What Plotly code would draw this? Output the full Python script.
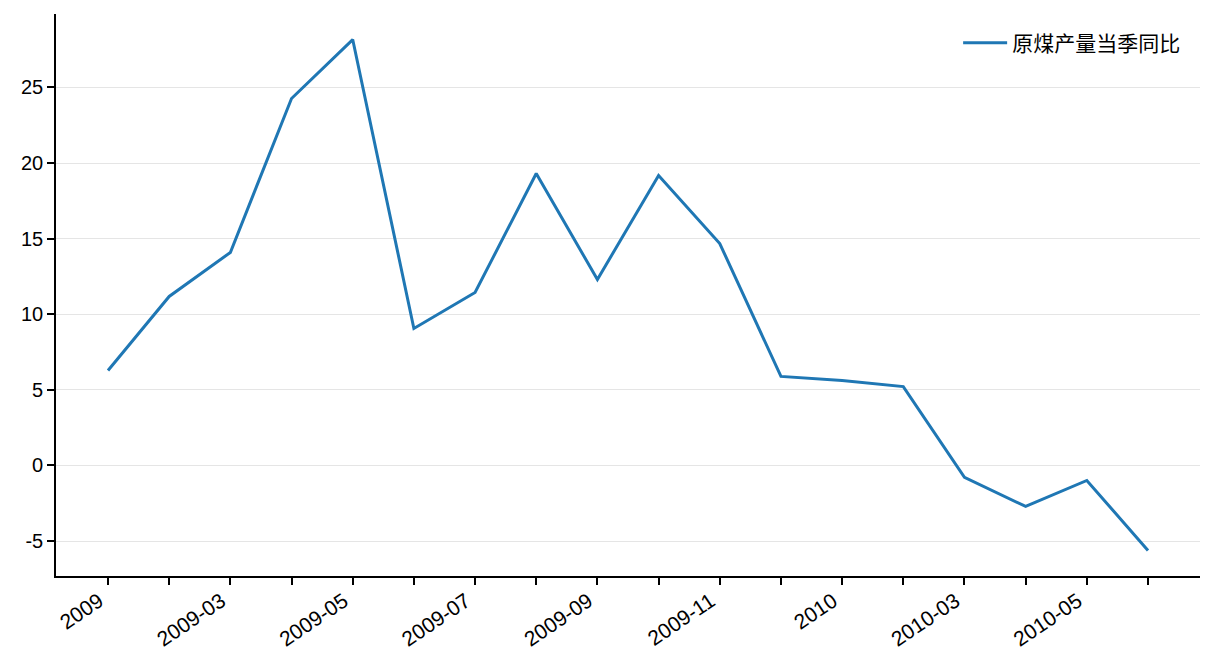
import plotly.graph_objects as go

# --- datos: producción de carbón crudo, variación interanual ---
months = ["2009-01", "2009-02", "2009-03", "2009-04", "2009-05", "2009-06",
          "2009-07", "2009-08", "2009-09", "2009-10", "2009-11", "2009-12",
          "2010-01", "2010-02", "2010-03", "2010-04", "2010-05", "2010-06"]
yoy = [6.28, 11.18, 14.09, 24.27, 28.17, 9.06,
       11.44, 19.31, 12.30, 19.18, 14.68, 5.89,
       5.62, 5.22, -0.79, -2.71, -0.99, -5.62]
tick_labels = ["2009", "", "2009-03", "", "2009-05", "", "2009-07", "", "2009-09",
               "", "2009-11", "", "2010", "", "2010-03", "", "2010-05", ""]
y_ticks = [-5, 0, 5, 10, 15, 20, 25]
y_tick_labels = ["-5", "0", "5", "10", "15", "20", "25"]
series_name = "原煤产量当季同比"

x = list(range(len(months)))
ymin, ymax = min(yoy), max(yoy)
pad = (ymax - ymin) * 0.05

fig = go.Figure()
fig.add_trace(go.Scatter(
    x=x, y=yoy, mode="lines", name=series_name,
    line=dict(color="#1f77b4", width=3),
))

font_family = "Liberation Sans, Arial, Noto Sans CJK SC, sans-serif"
# la página tiene 8px de margen propio: se compensa aquí
fig.update_layout(
    width=1216, height=672,
    margin=dict(l=48, r=24, t=6, b=104, autoexpand=False),
    plot_bgcolor="white", paper_bgcolor="white",
    font=dict(family=font_family, size=20, color="black"),
    showlegend=True,
    legend=dict(
        x=0.987, y=0.948, xanchor="right", yanchor="middle",
        bgcolor="rgba(0,0,0,0)", borderwidth=0, itemwidth=44,
        font=dict(family="Noto Sans CJK SC, sans-serif", size=21),
    ),
)
fig.update_xaxes(
    range=[-0.85, len(months) - 1 + 0.85],
    tickmode="array", tickvals=x, ticktext=tick_labels,
    tickangle=-34, tickfont=dict(size=21),
    ticks="outside", ticklen=7, tickwidth=1.6, tickcolor="black",
    ticklabelstandoff=-4, ticklabelshift=-9,
    showline=True, linecolor="black", linewidth=1.6,
    showgrid=False, zeroline=False, automargin=False,
)
fig.update_yaxes(
    range=[ymin - pad, ymax + pad],
    tickmode="array", tickvals=y_ticks, ticktext=y_tick_labels,
    ticks="outside", ticklen=7, tickwidth=1.6, tickcolor="black",
    showline=True, linecolor="black", linewidth=1.6,
    showgrid=True, gridcolor="#e5e5e5", gridwidth=1.2,
    zeroline=False, automargin=False,
)

fig.write_html("out.html")
